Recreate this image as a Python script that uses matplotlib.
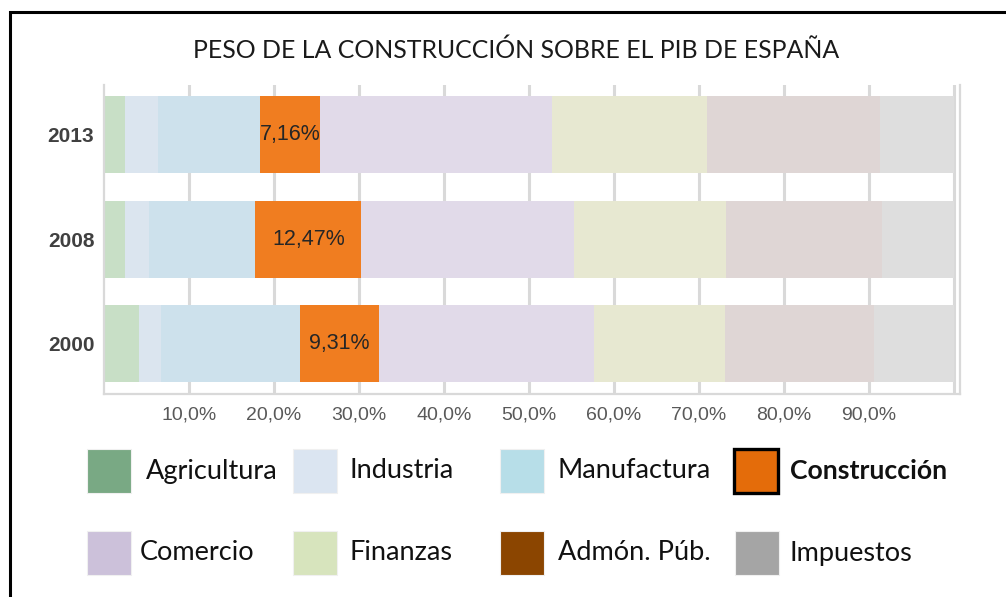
import numpy as np
import matplotlib
matplotlib.use('Agg')
import matplotlib.pyplot as plt
from matplotlib.patches import Rectangle

# data (share of GDP, %)
years = ['2000', '2008', '2013']
sectors = ['Agricultura', 'Industria', 'Manufactura', 'Construcción',
           'Comercio', 'Finanzas', 'Admón. Púb.', 'Impuestos']

agricultura = [4.15, 2.5, 2.5]
industria = [2.55, 2.8, 3.8]
manufactura = [16.3, 12.5, 12.0]
construccion = [9.31, 12.47, 7.16]
comercio = [25.3, 25.0, 27.3]
finanzas = [15.4, 17.9, 18.2]
admon = [17.6, 18.4, 20.3]
impuestos = [9.39, 8.43, 8.74]

xtick_vals = [10, 20, 30, 40, 50, 60, 70, 80, 90, 100]

series = [agricultura, industria, manufactura, construccion,
          comercio, finanzas, admon, impuestos]

# faded colours in the bars, full colours in the legend
bar_colors = ['#c8dfc6', '#dbe5ef', '#cde1ec', '#f07d20',
              '#e1dae9', '#e7e8d1', '#dfd6d5', '#dedede']
leg_colors = ['#79a984', '#dbe5f1', '#b7dee8', '#e46c0a',
              '#ccc1da', '#d7e4bd', '#8b4500', '#a5a5a5']

W, H = 1006, 597
fig = plt.figure(figsize=(W / 100, H / 100), dpi=100)


def fx(px):
    return px / W


def fy(py):
    return 1 - py / H


ax = fig.add_axes([fx(104), fy(394), fx(960) - fx(104), fy(85) - fy(394)])

y = np.arange(len(years))
left = np.zeros(len(years))
for vals, col in zip(series, bar_colors):
    ax.barh(y, vals, left=left, height=0.737, color=col, edgecolor='none', zorder=2)
    left += np.array(vals)

# value labels on the construction segment
cstart = np.array(agricultura) + np.array(industria) + np.array(manufactura)
for yi, s, v in zip(y, cstart, construccion):
    ax.text(s + v / 2, yi, f'{v:.2f}'.replace('.', ',') + '%',
            ha='center', va='center', fontsize=15.5, color='#262626',
            family='Liberation Sans', zorder=3)

ax.set_xlim(0, 100.7)
ax.set_ylim(-0.483, 2.474)
ax.set_yticks(y)
ax.set_yticklabels(years, fontsize=15, fontweight='bold', color='#404040',
                   family='Liberation Sans')
ax.set_xticks(xtick_vals)
ax.set_xticklabels([f'{v:.1f}'.replace('.', ',') + '%' if v < 100 else ''
                    for v in xtick_vals],
                   fontsize=14, color='#595959', family='Liberation Sans')
ax.tick_params(axis='x', length=0, pad=9)
ax.tick_params(axis='y', length=0, pad=7)
ax.grid(axis='x', color='#d9d9d9', linewidth=2.2, zorder=1)
ax.set_axisbelow(True)
for side in ['left', 'bottom', 'right']:
    ax.spines[side].set_color('#d9d9d9')
    ax.spines[side].set_linewidth(1.6)
ax.spines['top'].set_visible(False)

# title
fig.text(fx(516), fy(50), 'PESO DE LA CONSTRUCCIÓN SOBRE EL PIB DE ESPAÑA',
         ha='center', va='center', fontsize=17.9, family='Lato', color='#1a1a1a')

# legend, laid out like the original
patch_x = [87, 293, 500, 734, 87, 293, 500, 735]
text_x = [146, 350, 558, 790, 140, 350, 558, 790]
row_y = [471, 471, 471, 471, 553, 553, 553, 553]
for i, name in enumerate(sectors):
    bold = name == 'Construcción'
    fig.add_artist(Rectangle((fx(patch_x[i]), fy(row_y[i] + 22)),
                             fx(44), 44 / H, transform=fig.transFigure,
                             facecolor=leg_colors[i],
                             edgecolor='black' if bold else '#f0f0f0',
                             linewidth=2.4 if bold else 0.8))
    fig.text(fx(text_x[i]), fy(row_y[i]), name, ha='left', va='center',
             fontsize=19.5 if not bold else 19.2, family='Lato', color='#111111',
             fontweight='bold' if bold else 'normal')

# outer frame (cut at right and bottom)
fig.add_artist(Rectangle((fx(10), -0.2), 1.5, fy(12) + 0.2,
                         transform=fig.transFigure, fill=False,
                         edgecolor='black', linewidth=2.2))

plt.savefig('out.png', dpi=100)
